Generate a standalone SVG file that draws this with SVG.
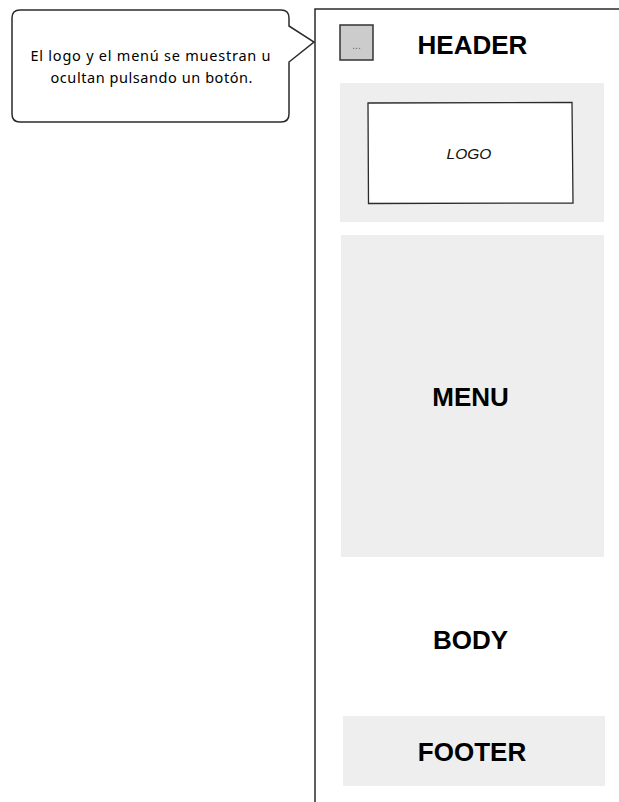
<svg xmlns="http://www.w3.org/2000/svg" width="619" height="802" viewBox="0 0 619 802">
<style>
.frame{fill:none;stroke:#2b2b2b;stroke-width:1.5}
.area{fill:#eeeeee;stroke:none}
.big{font-family:"Liberation Sans",Arial,sans-serif;font-weight:bold;font-size:26px;fill:#000;text-anchor:middle}
.note{font-family:"Comic Sans MS","Noto Sans",sans-serif;font-size:14.5px;fill:#000;text-anchor:middle}
</style>
<rect width="619" height="802" fill="#ffffff"/>
<g id="frame">
<path class="frame" d="M315 802 V9 H619"/>
</g>
<g id="callout">
<path d="M20 10 H281 Q289 10 289 18 V26 L314 42 L289 62 V114 Q289 122 281 122 H20 Q12 122 12 114 V18 Q12 10 20 10 Z" fill="#ffffff" stroke="#2b2b2b" stroke-width="1.5"/>
<text class="note" x="150.5" y="61" textLength="240" lengthAdjust="spacing">El logo y el menú se muestran u</text>
<text class="note" x="151.5" y="83" textLength="202" lengthAdjust="spacing">ocultan pulsando un botón.</text>
</g>
<g id="button">
<rect x="340" y="25" width="33" height="35" fill="#cccccc" stroke="#333333" stroke-width="1.5"/>
<text x="356.5" y="49" font-family="Liberation Sans,Arial,sans-serif" font-size="10" fill="#666666" text-anchor="middle">...</text>
</g>
<g id="header">
<text class="big" x="472.5" y="54">HEADER</text>
</g>
<g id="logo-area">
<rect class="area" x="340" y="83" width="264" height="139"/>
<path d="M368 103 L572 102.5 L573 203 L368.5 203.5 Z" fill="#ffffff" stroke="#2b2b2b" stroke-width="1.3"/>
<text x="469" y="159" font-family="Liberation Sans,Arial,sans-serif" font-style="italic" font-size="15.5" fill="#111" text-anchor="middle">LOGO</text>
</g>
<g id="menu">
<rect class="area" x="341" y="235" width="263" height="322"/>
<text class="big" x="470.5" y="406">MENU</text>
</g>
<g id="body">
<text class="big" x="470.5" y="649">BODY</text>
</g>
<g id="footer">
<rect class="area" x="343" y="716" width="262" height="70"/>
<text class="big" x="472" y="761">FOOTER</text>
</g>
<g id="connectors"/>
</svg>
